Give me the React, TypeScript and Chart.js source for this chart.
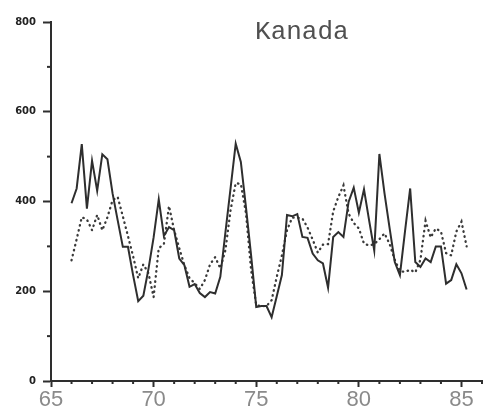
import React, { useEffect, useRef } from "react";
import { Chart, registerables } from "chart.js";

Chart.register(...registerables);

const titleText = "Kanada";

// quarterly time points (year, two-digit)
const quarters = [
  66, 66.25, 66.5, 66.75,
  67, 67.25, 67.5, 67.75,
  68, 68.25, 68.5, 68.75,
  69, 69.25, 69.5, 69.75,
  70, 70.25, 70.5, 70.75,
  71, 71.25, 71.5, 71.75,
  72, 72.25, 72.5, 72.75,
  73, 73.25, 73.5, 73.75,
  74, 74.25, 74.5, 74.75,
  75, 75.25, 75.5, 75.75,
  76, 76.25, 76.5, 76.75,
  77, 77.25, 77.5, 77.75,
  78, 78.25, 78.5, 78.75,
  79, 79.25, 79.5, 79.75,
  80, 80.25, 80.5, 80.75,
  81, 81.25, 81.5, 81.75,
  82, 82.25, 82.5, 82.75,
  83, 83.25, 83.5, 83.75,
  84, 84.25, 84.5, 84.75,
  85, 85.25,
];

const solidValues = [
  396, 429, 528, 384,
  491, 424, 505, 494,
  418, 358, 299, 299,
  236, 178, 190, 250,
  320, 405, 323, 343,
  336, 273, 258, 210,
  216, 196, 187, 198,
  195, 232, 332, 430,
  529, 488, 387, 280,
  165, 167, 167, 142,
  189, 236, 370, 367,
  372, 321, 319, 284,
  269, 262, 208, 321,
  332, 321, 399, 431,
  375, 427, 358, 291,
  506, 418, 340, 265,
  236, 334, 429, 265,
  254, 273, 265, 300,
  300, 217, 225, 260,
  240, 204,
];

const dottedValues = [
  269, 316, 365, 360,
  336, 370, 336, 365,
  403, 410, 367, 323,
  278, 229, 260, 240,
  187, 296, 305, 390,
  336, 296, 258, 229,
  218, 205, 225, 260,
  276, 251, 292, 381,
  441, 439, 374, 247,
  169, 167, 167, 180,
  232, 280, 336, 364,
  364, 362, 342, 315,
  286, 304, 305, 378,
  410, 436, 373, 352,
  340, 306, 302, 305,
  316, 329, 305, 270,
  245, 243, 248, 242,
  270, 357, 320, 340,
  333, 285, 280, 333,
  355, 300,
];

const xMajorTicks = [65, 70, 75, 80, 85];
const xMinorTicks = [66, 67, 68, 69, 71, 72, 73, 74, 76, 77, 78, 79, 81, 82, 83, 84, 86];
const yMajorTicks = [0, 200, 400, 600, 800];
const yMinorTicks = [100, 300, 500, 700];

const INK = "#2e2e2e";

export default function App() {
  const ref = useRef<HTMLCanvasElement>(null);

  useEffect(() => {
    document.body.style.margin = "0";
    const canvas = ref.current;
    if (!canvas) return;

    const minorTickPlugin = {
      id: "minorTicks",
      afterDraw(chart: any) {
        const { ctx, chartArea, scales } = chart;
        ctx.save();
        ctx.strokeStyle = INK;
        ctx.lineWidth = 2;
        for (const v of xMinorTicks) {
          const px = scales.x.getPixelForValue(v);
          ctx.beginPath();
          ctx.moveTo(px, chartArea.bottom);
          ctx.lineTo(px, chartArea.bottom + 3);
          ctx.stroke();
        }
        for (const v of yMinorTicks) {
          const py = scales.y.getPixelForValue(v);
          ctx.beginPath();
          ctx.moveTo(chartArea.left - 4, py);
          ctx.lineTo(chartArea.left, py);
          ctx.stroke();
        }
        ctx.restore();
      },
    };

    const titlePlugin = {
      id: "innerTitle",
      afterDraw(chart: any) {
        const { ctx, chartArea } = chart;
        ctx.save();
        ctx.font = "26px 'Liberation Mono', monospace";
        ctx.fillStyle = "#505050";
        ctx.textAlign = "center";
        ctx.textBaseline = "alphabetic";
        const cx = chartArea.left + (chartArea.right - chartArea.left) * 0.582;
        ctx.fillText(titleText, cx, chartArea.top + 17);
        ctx.restore();
      },
    };

    const chart = new Chart(canvas, {
      type: "line",
      data: {
        datasets: [
          {
            label: "solid",
            data: quarters.map((q, i) => ({ x: q, y: solidValues[i] })),
            borderColor: INK,
            borderWidth: 2,
            pointRadius: 0,
            tension: 0,
            borderJoinStyle: "miter",
          },
          {
            label: "dotted",
            data: quarters.map((q, i) => ({ x: q, y: dottedValues[i] })),
            borderColor: "#3a3a3a",
            borderWidth: 2.3,
            borderDash: [0.5, 4.6],
            borderCapStyle: "round",
            pointRadius: 0,
            tension: 0,
          },
        ],
      },
      options: {
        animation: false,
        responsive: false,
        events: [],
        layout: { padding: { top: 22, right: 8, left: 0, bottom: 0 } },
        plugins: {
          legend: { display: false },
          tooltip: { enabled: false },
          title: { display: false },
        },
        scales: {
          x: {
            type: "linear",
            min: 65,
            max: 86,
            afterBuildTicks: (s: any) => {
              s.ticks = xMajorTicks.map((v) => ({ value: v }));
            },
            afterFit: (s: any) => {
              s.height = 32;
            },
            grid: {
              drawOnChartArea: false,
              drawTicks: true,
              tickLength: 6,
              tickColor: INK,
              tickWidth: 2,
            },
            border: { color: INK, width: 2 },
            ticks: {
              font: { family: "'Liberation Sans', sans-serif", size: 22 },
              color: "#8a8a8a",
              padding: 0,
              maxRotation: 0,
              autoSkip: false,
            },
          },
          y: {
            type: "linear",
            min: 0,
            max: 800,
            afterBuildTicks: (s: any) => {
              s.ticks = yMajorTicks.map((v) => ({ value: v }));
            },
            afterFit: (s: any) => {
              s.width = 51;
            },
            grid: {
              drawOnChartArea: false,
              drawTicks: true,
              tickLength: 8,
              tickColor: INK,
              tickWidth: 2,
            },
            border: { color: INK, width: 2 },
            ticks: {
              font: { family: "'DejaVu Sans', sans-serif", size: 10, weight: "bold" },
              color: "#222",
              padding: 7,
              autoSkip: false,
            },
          },
        },
      },
      plugins: [minorTickPlugin, titlePlugin],
    });

    return () => chart.destroy();
  }, []);

  return (
    <div style={{ position: "fixed", left: 0, top: 0, width: 490, height: 413 }}>
      <canvas ref={ref} width={490} height={413} style={{ display: "block" }} />
    </div>
  );
}
